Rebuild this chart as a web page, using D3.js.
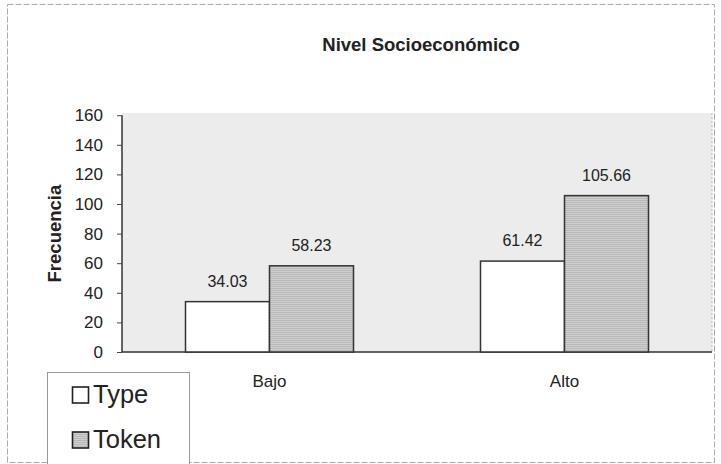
<!DOCTYPE html>
<html>
<head>
<meta charset="utf-8">
<script src="https://cdn.jsdelivr.net/npm/d3@7"></script>
<style>
  body { margin: 0; background: #fff; }
  text { font-family: "Liberation Sans", Arial, sans-serif; fill: #222; }
</style>
</head>
<body>
<svg id="chart" width="721" height="464"></svg>
<script>
const categories = ["Bajo", "Alto"];
const seriesNames = ["Type", "Token"];
const typeValues = [34.03, 61.42];
const tokenValues = [58.23, 105.66];
const yTicks = [0, 20, 40, 60, 80, 100, 120, 140, 160];

const svg = d3.select("#chart");
const plot = {left: 122, right: 712, top: 113, bottom: 352};

// patterns for the Token bars
const defs = svg.append("defs");
const tok = defs.append("pattern").attr("id", "tokenFill")
    .attr("width", 2).attr("height", 2).attr("patternUnits", "userSpaceOnUse");
tok.append("rect").attr("width", 2).attr("height", 2).attr("fill", "#cfcfcf");
tok.append("rect").attr("width", 2).attr("height", 1).attr("fill", "#b9b9b9");

// outer frame
svg.append("rect")
    .attr("x", 7.5).attr("y", 4.5).attr("width", 707).attr("height", 458)
    .attr("fill", "none").attr("stroke", "#aaa").attr("stroke-dasharray", "6,2");

const x0 = d3.scaleBand().domain(categories).range([plot.left, plot.right]);
const x1 = d3.scaleBand().domain(seriesNames).range([0, 168]);
const y = d3.scaleLinear().domain([0, 160]).range([plot.bottom, plot.bottom - 160 * 1.48]);

// plot background
svg.append("rect")
    .attr("x", plot.left).attr("y", plot.top)
    .attr("width", plot.right - plot.left).attr("height", plot.bottom - plot.top)
    .attr("fill", "#ececec");
svg.append("line")
    .attr("x1", plot.right).attr("x2", plot.right)
    .attr("y1", plot.top).attr("y2", plot.bottom)
    .attr("stroke", "#bbb").attr("stroke-dasharray", "2,2");

// y axis
const yAxis = svg.append("g")
    .attr("transform", `translate(${plot.left},0)`)
    .call(d3.axisLeft(y).tickValues(yTicks).tickSize(5).tickPadding(14));
yAxis.select(".domain").attr("stroke", "#333").attr("stroke-width", 1.5)
    .attr("d", `M0,${y(160)}V${plot.bottom}`);
yAxis.selectAll(".tick line").attr("stroke", "#444");
yAxis.selectAll(".tick text")
    .style("font-family", "'Liberation Sans', Arial, sans-serif")
    .style("font-size", "17px").attr("fill", "#222");

// bottom axis line
svg.append("line")
    .attr("x1", plot.left).attr("x2", plot.right)
    .attr("y1", plot.bottom).attr("y2", plot.bottom)
    .attr("stroke", "#333").attr("stroke-width", 1.5);

// category labels
svg.selectAll(".cat").data(categories).enter().append("text")
    .attr("x", d => x0(d) + x0.bandwidth() / 2)
    .attr("y", 387)
    .attr("text-anchor", "middle")
    .style("font-size", "17px")
    .text(d => d);

// bars
const rows = categories.map((c, i) => ({cat: c, vals: [
  {s: "Type", v: typeValues[i]}, {s: "Token", v: tokenValues[i]}]}));
const groups = svg.selectAll(".grp").data(rows).enter().append("g")
    .attr("transform", d => `translate(${x0(d.cat) + (x0.bandwidth() - 168) / 2},0)`);
groups.selectAll("rect").data(d => d.vals).enter().append("rect")
    .attr("x", d => x1(d.s))
    .attr("y", d => y(d.v))
    .attr("width", x1.bandwidth())
    .attr("height", d => plot.bottom - y(d.v))
    .attr("fill", d => d.s === "Type" ? "#fff" : "url(#tokenFill)")
    .attr("stroke", "#333").attr("stroke-width", 1.5);
groups.selectAll(".val").data(d => d.vals).enter().append("text")
    .attr("x", d => x1(d.s) + x1.bandwidth() / 2)
    .attr("y", d => y(d.v) - 15)
    .attr("text-anchor", "middle")
    .style("font-size", "16px")
    .text(d => d.v.toFixed(2));

// title
svg.append("text")
    .attr("x", 421).attr("y", 51)
    .attr("text-anchor", "middle")
    .style("font-size", "18.5px").style("font-weight", "bold")
    .text("Nivel Socioeconómico");

// y axis title
svg.append("text")
    .attr("transform", `translate(61,${(y(160) + plot.bottom) / 2}) rotate(-90)`)
    .attr("text-anchor", "middle")
    .style("font-size", "18.5px").style("font-weight", "bold")
    .text("Frecuencia");

// legend
const legend = svg.append("g");
legend.append("rect")
    .attr("x", 47.5).attr("y", 372.5).attr("width", 142).attr("height", 92)
    .attr("fill", "#fff").attr("stroke", "#999");
const li = legend.selectAll(".li").data(seriesNames).enter().append("g")
    .attr("transform", (d, i) => `translate(72,${403 + i * 45})`);
li.append("rect")
    .attr("x", 0.5).attr("y", -16).attr("width", 16).attr("height", 16)
    .attr("fill", (d, i) => i === 0 ? "#fff" : "url(#tokenFill)")
    .attr("stroke", "#222").attr("stroke-width", 1.6);
li.append("text")
    .attr("x", 21).attr("y", 0)
    .style("font-size", "25.5px")
    .text(d => d);
</script>
</body>
</html>
